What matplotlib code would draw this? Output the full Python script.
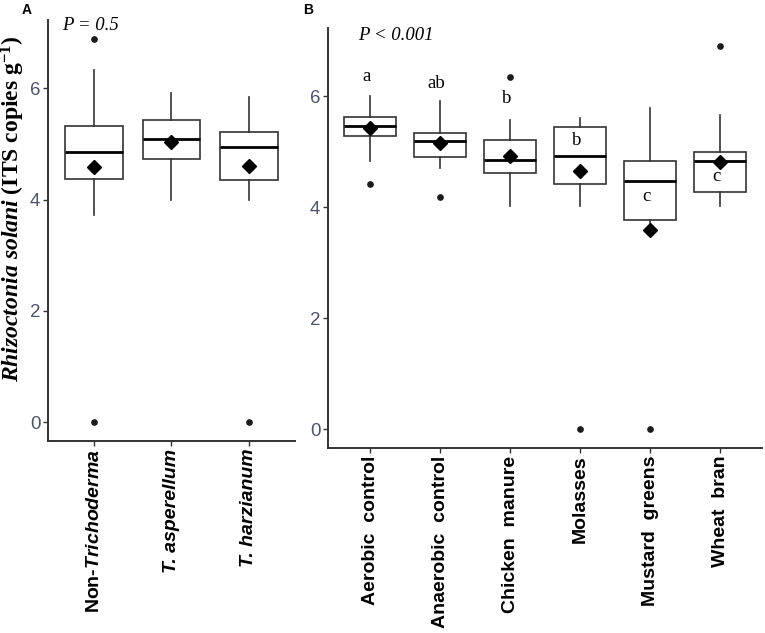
import matplotlib
matplotlib.use("Agg")
import matplotlib.pyplot as plt

plt.rcParams['font.family'] = ['Liberation Sans', 'DejaVu Sans']
plt.rcParams['mathtext.fontset'] = 'custom'
plt.rcParams['mathtext.rm'] = 'Liberation Serif:bold'
plt.rcParams['mathtext.it'] = 'Liberation Serif:bold:italic'
plt.rcParams['mathtext.bf'] = 'Liberation Serif:bold'
plt.rcParams['mathtext.sf'] = 'Liberation Sans:bold:italic'

# Panel A: Trichoderma groups
groups_a = ['Non-$\\mathsf{Trichoderma}$', 'T. asperellum', 'T. harzianum']
a_whishi = [6.34, 5.91, 5.84]
a_q3 = [5.33, 5.44, 5.21]
a_med = [4.85, 5.10, 4.94]
a_q1 = [4.38, 4.73, 4.36]
a_whislo = [3.72, 4.00, 4.00]
a_mean = [4.58, 5.03, 4.61]
a_fliers = [[6.89, 0.0], [], [0.0]]

# Panel B: amendments
groups_b = ['Aerobic  control', 'Anaerobic  control', 'Chicken  manure',
            'Molasses', 'Mustard  greens', 'Wheat  bran']
b_whishi = [6.01, 5.92, 5.58, 5.61, 5.79, 5.66]
b_q3 = [5.62, 5.34, 5.21, 5.45, 4.83, 4.99]
b_med = [5.46, 5.20, 4.85, 4.92, 4.48, 4.83]
b_q1 = [5.28, 4.91, 4.61, 4.41, 3.77, 4.27]
b_whislo = [4.84, 4.71, 4.02, 4.02, 3.72, 4.02]
b_mean = [5.42, 5.15, 4.93, 4.65, 3.59, 4.82]
b_fliers = [[4.41], [4.18], [6.35], [0.0], [0.0], [6.91]]
letters = ['a', 'ab', 'b', 'b', 'c', 'c']
letter_y = [6.28, 6.14, 5.88, 5.12, 4.11, 4.47]

yticks = [0, 2, 4, 6]


def make_stats(whislo, q1, med, q3, whishi, mean, fliers):
    return [dict(whislo=w0, q1=a, med=m, q3=b, whishi=w1, mean=mu, fliers=f)
            for w0, a, m, b, w1, mu, f in zip(whislo, q1, med, q3, whishi, mean, fliers)]


def draw_boxes(ax, stats):
    pos = range(1, len(stats) + 1)
    ax.bxp(stats, positions=pos, widths=0.75, patch_artist=True,
           showmeans=True, showcaps=False,
           boxprops=dict(facecolor='white', edgecolor='#333333', linewidth=1.2),
           medianprops=dict(color='black', linewidth=2.0),
           whiskerprops=dict(color='#333333', linewidth=1.2),
           flierprops=dict(marker='o', markerfacecolor='#1a1a1a',
                           markeredgecolor='#1a1a1a', markersize=3.8),
           meanprops=dict(marker='D', markerfacecolor='black',
                          markeredgecolor='black', markersize=7))
    ax.set_xlim(0.4, len(stats) + 0.6)
    ax.set_ylim(-0.34, 7.23)
    ax.set_yticks(yticks)
    ax.set_yticklabels([str(t) for t in yticks])
    for s in ['top', 'right']:
        ax.spines[s].set_visible(False)
    for s in ['left', 'bottom']:
        ax.spines[s].set_color('#333333')
        ax.spines[s].set_linewidth(1.4)
    ax.tick_params(axis='both', length=3.5, width=1.0, color='#333333', pad=2)
    ax.tick_params(axis='y', labelsize=13.5, labelcolor='#4d5466')


fig = plt.figure(figsize=(7.65, 6.33), dpi=100)
ax_a = fig.add_axes([0.0627, 0.3033, 0.3229, 0.665])
ax_b = fig.add_axes([0.4288, 0.2923, 0.5673, 0.6635])

draw_boxes(ax_a, make_stats(a_whislo, a_q1, a_med, a_q3, a_whishi, a_mean, a_fliers))
draw_boxes(ax_b, make_stats(b_whislo, b_q1, b_med, b_q3, b_whishi, b_mean, b_fliers))

ax_a.set_xticks(range(1, len(groups_a) + 1))
ax_a.set_xticklabels(groups_a, rotation=90, fontsize=14, fontweight='bold', va='top')
for lab in ax_a.get_xticklabels()[1:]:
    lab.set_fontstyle('italic')

ax_b.set_xticks(range(1, len(groups_b) + 1))
ax_b.set_xticklabels(groups_b, rotation=90, fontsize=14, fontweight='bold', va='top')

for i, (lt, ly) in enumerate(zip(letters, letter_y)):
    ax_b.text(i + 1 - 0.05, ly, lt, ha='center', va='baseline',
              fontsize=13.5, family='Liberation Serif')

fig.text(62 / 765, 1 - 17 / 633, 'P = 0.5', ha='left', va='top',
         fontsize=13.5, family='Liberation Serif', style='italic')
fig.text(358 / 765, 1 - 27 / 633, 'P < 0.001', ha='left', va='top',
         fontsize=13.5, family='Liberation Serif', style='italic')

fig.text(27 / 765, 1 - 10 / 633, 'A', ha='center', va='center',
         fontsize=10, fontweight='bold')
fig.text(308 / 765, 1 - 10 / 633, 'B', ha='center', va='center',
         fontsize=10, fontweight='bold')

fig.text(13 / 765, 1 - 209 / 633,
         '$\\mathit{Rhizoctonia\\ solani}$ (ITS copies g$^{-1}$)',
         rotation=90, ha='center', va='center', fontsize=17,
         family='Liberation Serif', fontweight='bold')

fig.savefig('out.png', dpi=100)
